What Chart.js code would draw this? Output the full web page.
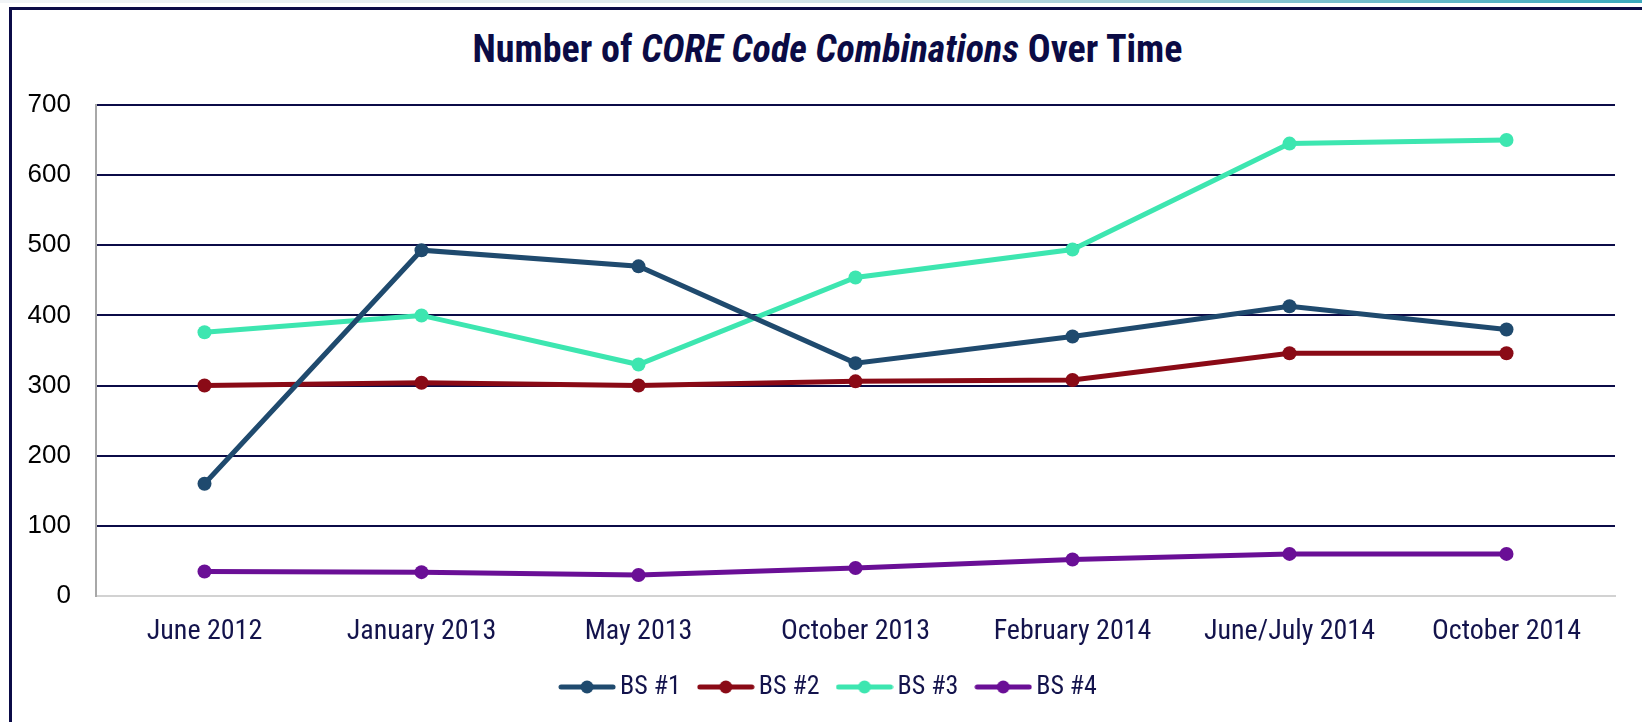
<!DOCTYPE html>
<html>
<head>
<meta charset="utf-8">
<script src="https://cdn.jsdelivr.net/npm/chart.js@4.4.1/dist/chart.umd.min.js"></script>
<style>
    html, body { margin: 0; padding: 0; background: #fff; width: 1642px; height: 722px; overflow: hidden; }
    .topstrip { position: absolute; left: 0; top: 0; width: 1642px; height: 3px;
        background: linear-gradient(to right, #f1f4f7 0%, #dbe7ec 45%, #9fcbd6 70%, #3aa9bd 100%); }
    .frame { position: absolute; left: 9px; top: 7px; width: 1640px; height: 720px;
        border-left: 3px solid #0b0b47; border-top: 3px solid #0b0b47; }
    h1 { position: absolute; left: 13px; width: 1629px; top: 27px; margin: 0; text-align: center;
        font: bold 38px "Roboto Condensed", "DejaVu Sans Condensed", sans-serif; color: #0b0b45; }
    #wrap { position: absolute; left: 13px; top: 10px; width: 1629px; height: 712px; }
</style>
</head>
<body>
<div class="topstrip"></div>
<div class="frame"></div>
<h1>Number of <i>CORE Code Combinations</i> Over Time</h1>
<div id="wrap"><canvas id="chart"></canvas></div>
<script>
// chart data
const categories = ['June 2012', 'January 2013', 'May 2013', 'October 2013', 'February 2014', 'June/July 2014', 'October 2014'];
const seriesNames = ['BS #1', 'BS #2', 'BS #3', 'BS #4'];
const bs1 = [160, 493, 470, 332, 370, 413, 380];
const bs2 = [300, 304, 300, 306, 308, 346, 346];
const bs3 = [376, 400, 330, 454, 494, 645, 650];
const bs4 = [35, 34, 30, 40, 52, 60, 60];
const yTicks = [0, 100, 200, 300, 400, 500, 600, 700];

const colors = ['#1f4a6e', '#8a0a16', '#3de6b0', '#6a0f96'];
const navy = '#0b0b47';
const narrow = '"Roboto Condensed", "DejaVu Sans Condensed", sans-serif';

// little line+dot icon for the legend
function legendIcon(color) {
    const c = document.createElement('canvas');
    c.width = 58; c.height = 16;
    const g = c.getContext('2d');
    g.strokeStyle = color;
    g.lineWidth = 5;
    g.lineCap = 'round';
    g.beginPath(); g.moveTo(3, 8); g.lineTo(55, 8); g.stroke();
    g.fillStyle = color;
    g.beginPath(); g.arc(29, 8, 6.5, 0, Math.PI * 2); g.fill();
    return c;
}
const icons = colors.map(legendIcon);

// nudge the legend a bit right, the original sits off-centre
const legendNudge = {
    id: 'legendNudge',
    afterLayout(chart) {
        if (!chart.legend) return;
        chart.legend.left += 18;
        chart.legend.right += 18;
    }
};

const allSeries = [bs1, bs2, bs3, bs4];
const datasets = allSeries.map((vals, i) => ({
    label: seriesNames[i],
    data: vals,
    borderColor: colors[i],
    backgroundColor: colors[i],
    borderWidth: 5,
    pointRadius: 7,
    pointHoverRadius: 7,
    pointBorderWidth: 0,
    tension: 0
}));

new Chart(document.getElementById('chart'), {
    type: 'line',
    data: { labels: categories, datasets },
    plugins: [legendNudge],
    options: {
        responsive: true,
        maintainAspectRatio: false,
        animation: false,
        events: [],
        layout: { padding: { top: 95, right: 27, bottom: 12, left: 0 } },
        scales: {
            x: {
                offset: true,
                grid: { display: false, drawTicks: false },
                border: { display: true, color: '#d2d2d2', width: 2 },
                ticks: { padding: 19, color: '#13134c', font: { family: narrow, size: 28 }, maxRotation: 0 },
                afterFit: (axis) => { axis.height = 53; }
            },
            y: {
                min: 0,
                max: 700,
                afterBuildTicks: (axis) => { axis.ticks = yTicks.map(v => ({ value: v })); },
                grid: {
                    drawTicks: false,
                    lineWidth: 2,
                    color: (ctx) => ctx.tick && ctx.tick.value === 0 ? 'rgba(0,0,0,0)' : navy
                },
                border: { display: true, color: '#a8a8a8', width: 2 },
                ticks: { padding: 25, color: '#000', font: { family: '"Liberation Sans", Arial, sans-serif', size: 26 } },
                afterFit: (axis) => { axis.width = 83; }
            }
        },
        plugins: {
            title: { display: false },
            tooltip: { enabled: false },
            legend: {
                position: 'bottom',
                labels: {
                    usePointStyle: true,
                    pointStyleWidth: 40,
                    padding: 25,
                    color: '#13134c',
                    font: { family: narrow, size: 26 },
                    generateLabels: (chart) => Chart.defaults.plugins.legend.labels.generateLabels(chart)
                        .map((l, i) => ({ ...l, pointStyle: icons[i] }))
                }
            }
        }
    }
});
</script>
</body>
</html>
